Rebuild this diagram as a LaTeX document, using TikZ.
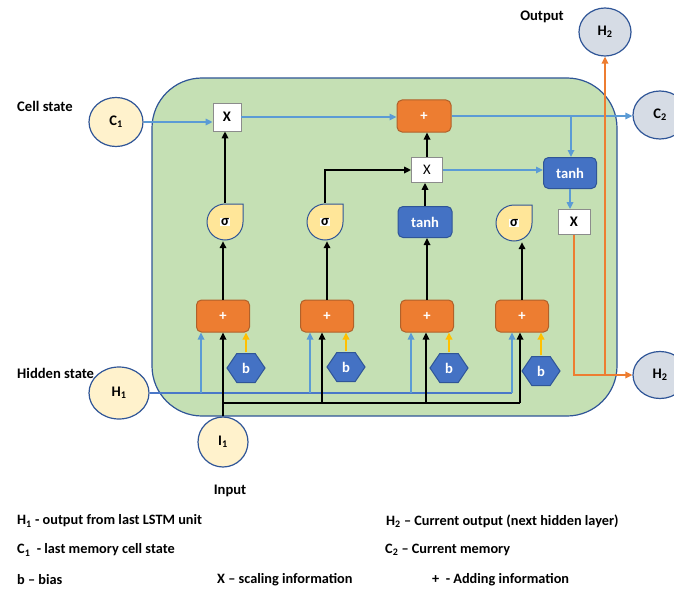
\documentclass[tikz,border=0pt]{standalone}
\usepackage{fontspec}
\setmainfont{Carlito}
\usetikzlibrary{arrows.meta,calc,shapes.geometric}
\definecolor{cellgreen}{HTML}{C5E0B4}
\definecolor{edgeblue}{HTML}{2F5597}
\definecolor{boxblue}{HTML}{4472C4}
\definecolor{lineblue}{HTML}{5B9BD5}
\definecolor{hidblue}{HTML}{4A78C8}
\definecolor{addorange}{HTML}{ED7D31}
\definecolor{addedge}{HTML}{B0612A}
\definecolor{cream}{HTML}{FFF2CC}
\definecolor{sigyellow}{HTML}{FFE699}
\definecolor{outgray}{HTML}{D6DCE5}
\definecolor{biasgold}{HTML}{FFC000}
\newcommand{\hlsig}{{\setlength{\fboxsep}{0.8pt}\colorbox{white}{σ}}}
\tikzset{
  base/.style={font=\fontsize{14.6}{17}\selectfont\bfseries},
  cellbox/.style={draw=edgeblue, fill=cellgreen, line width=1.2pt, rounded corners=50pt},
  state/.style={ellipse, draw=edgeblue, line width=1.2pt, fill=cream, inner sep=0pt},
  outstate/.style={state, fill=outgray},
  mulbox/.style={rectangle, draw=black!45, fill=white, line width=0.8pt, inner sep=0pt},
  addbox/.style={rectangle, rounded corners=5pt, fill=addorange, draw=addedge, line width=1pt,
    text=white, inner sep=0pt, minimum width=53pt, minimum height=32pt},
  tanhbox/.style={rectangle, rounded corners=5pt, fill=boxblue, draw=edgeblue, line width=1pt,
    text=white, inner sep=0pt, minimum width=54pt, minimum height=31pt},
  biashex/.style={rectangle, minimum width=40pt, minimum height=31pt, inner sep=0pt, text=white,
    path picture={
      \draw[draw=edgeblue, fill=boxblue, line width=1pt]
        ($(path picture bounding box.west)+(1,0)$) --
        ($(path picture bounding box.north west)!.27!(path picture bounding box.north east)+(0,1)$) --
        ($(path picture bounding box.north west)!.73!(path picture bounding box.north east)+(0,1)$) --
        ($(path picture bounding box.east)+(-1,0)$) --
        ($(path picture bounding box.south west)!.73!(path picture bounding box.south east)+(0,-1)$) --
        ($(path picture bounding box.south west)!.27!(path picture bounding box.south east)+(0,-1)$) -- cycle;
    }},
  sigdrop/.style={rectangle, minimum width=38pt, minimum height=38pt, inner sep=0pt,
    path picture={
      \draw[draw=edgeblue, fill=sigyellow, line width=1pt]
        ($(path picture bounding box.center)+(18,-18)$) -- ++(0,18)
        arc[start angle=0, end angle=270, radius=18] -- cycle;
    }},
  tip/.style={-{Triangle[length=7pt,width=6.5pt]}},
  blk/.style={draw=black, line width=1.6pt},
  blueln/.style={draw=lineblue, line width=1.6pt},
  hidln/.style={draw=hidblue, line width=1.6pt},
  orgln/.style={draw=addorange, line width=2pt},
  goldln/.style={draw=biasgold, line width=2.5pt},
  legend/.style={anchor=west, inner sep=0pt, font=\fontsize{14.3}{16}\selectfont\bfseries},
  lbl/.style={inner sep=0pt}
}
\begin{document}
\begin{tikzpicture}[x=1pt, y=-1pt, base]
\useasboundingbox (0,0) rectangle (674,591);

% LSTM cell body
\node[cellbox, minimum width=465pt, minimum height=338pt] (cell) at (384.5,247) {};

% external states
\node[state, minimum width=54pt, minimum height=49pt] (c1) at (116,122) {C\textsubscript{1}};
\node[state, minimum width=60pt, minimum height=52pt] (h1) at (119,393) {H\textsubscript{1}};
\node[state, minimum width=50pt, minimum height=50pt] (i1) at (223,442) {I\textsubscript{1}};
\node[outstate, minimum width=54pt, minimum height=48pt] (c2) at (660,115) {C\textsubscript{2}};
\node[outstate, minimum width=52pt, minimum height=48pt] (h2t) at (605,32) {H\textsubscript{2}};
\node[outstate, minimum width=54pt, minimum height=47pt] (h2b) at (660,375) {H\textsubscript{2}};

% side labels
\node[lbl, anchor=west] (lcell) at (17,106) {Cell state};
\node[lbl, anchor=west] (lhid) at (17,373) {Hidden state};
\node[lbl] (lout) at (542,17) {Output};
\node[lbl] (lin) at (230,491) {Input};

% scaling (multiply) boxes
\node[mulbox, minimum width=28pt, minimum height=28pt] (m1) at (227,117) {X};
\node[mulbox, minimum width=31pt, minimum height=25pt, font=\fontsize{14.6}{17}\selectfont] (m2) at (427,170) {X};
\node[mulbox, minimum width=32pt, minimum height=25pt] (m3) at (574,222) {X};

% adders
\node[addbox, minimum width=54pt] (a0) at (424,116) {+};
\node[addbox] (a1) at (223,316) {+};
\node[addbox] (a2) at (327,316) {+};
\node[addbox] (a3) at (427,316) {+};
\node[addbox] (a4) at (522,316) {+};

% activations
\node[tanhbox] (t1) at (425,222) {tanh};
\node[tanhbox, minimum width=53pt] (t2) at (570,173) {tanh};
\node[sigdrop] (s1) at (225,222) {\hlsig};
\node[sigdrop] (s2) at (325,222) {\hlsig};
\node[sigdrop] (s3) at (514,223) {\hlsig};

% biases
\node[biashex] (b1) at (246,368) {b};
\node[biashex] (b2) at (346,367) {b};
\node[biashex] (b3) at (449,368) {b};
\node[biashex] (b4) at (541,371) {b};

% branch points
\coordinate (hv1) at (201,393);
\coordinate (hv2) at (310,393);
\coordinate (hv3) at (411,393);
\coordinate (hv4) at (512,393);
\coordinate (iv1) at (223,403);
\coordinate (iv2) at (322,403);
\coordinate (iv3) at (426,403);
\coordinate (iv4) at (520,403);
\coordinate (cb) at (571,116);
\coordinate (ov) at (605,375);

% cell state path
\draw[blueln, tip] (c1.east) -- (c1.east -| m1.west);
\draw[blueln, tip] (m1.east) -- (m1.east -| a0.west);
\draw[blueln, tip] (a0.east) -- (a0.east -| c2.west);
\draw[blueln, tip] (cb) -- (cb |- t2.north);
\draw[blueln, tip] (m2.east) -- (m2.east -| t2.west);
\draw[blueln, tip] (t2.south) -- (t2.south |- m3.north);

% gate outputs
\draw[blk, tip] (s1.north) -- (s1.north |- m1.south);
\draw[blk, tip] (s2.north) |- (m2.west);
\draw[blk, tip] (m2.north) -- (m2.north |- a0.south);
\draw[blk, tip] (t1.north) -- (t1.north |- m2.south);
\draw[blk, tip] (a1.north) -- (a1.north |- s1.south);
\draw[blk, tip] (a2.north) -- (a2.north |- s2.south);
\draw[blk, tip] (a3.north) -- (a3.north |- t1.south);
\draw[blk, tip] (a4.north) -- (a4.north |- s3.south);

% hidden state inputs
\draw[hidln] (h1.east) -- (hv4);
\foreach \v/\a in {hv1/a1, hv2/a2, hv3/a3, hv4/a4}
  \draw[blueln, tip] (\v) -- (\v |- \a.south);

% current input
\draw[blk, tip] (i1.north) -- (a1.south);
\draw[blk] (iv1) -- (iv4);
\foreach \v/\a in {iv2/a2, iv3/a3, iv4/a4}
  \draw[blk, tip] (\v) -- (\v |- \a.south);

% biases
\foreach \b/\a in {b1/a1, b2/a2, b3/a3, b4/a4}
  \draw[goldln, tip] (\b.north) -- (\b.north |- \a.south);

% hidden output
\draw[orgln, tip] (m3.south) |- (h2b.west);
\draw[orgln, tip] (ov) -- (h2t.south);

% legend
\node[legend] (k1) at (17,521) {H\textsubscript{1} - output from last LSTM unit};
\node[legend] (k2) at (386,521) {H\textsubscript{2} – Current output (next hidden layer)};
\node[legend] (k3) at (17,550) {C\textsubscript{1}\ \ - last memory cell state};
\node[legend] (k4) at (385,550) {C\textsubscript{2} – Current memory};
\node[legend] (k5) at (17,580) {b – bias};
\node[legend] (k6) at (217,580) {X – scaling information};
\node[legend] (k7) at (432,580) {+\ \ - Adding information};
\end{tikzpicture}
\end{document}
